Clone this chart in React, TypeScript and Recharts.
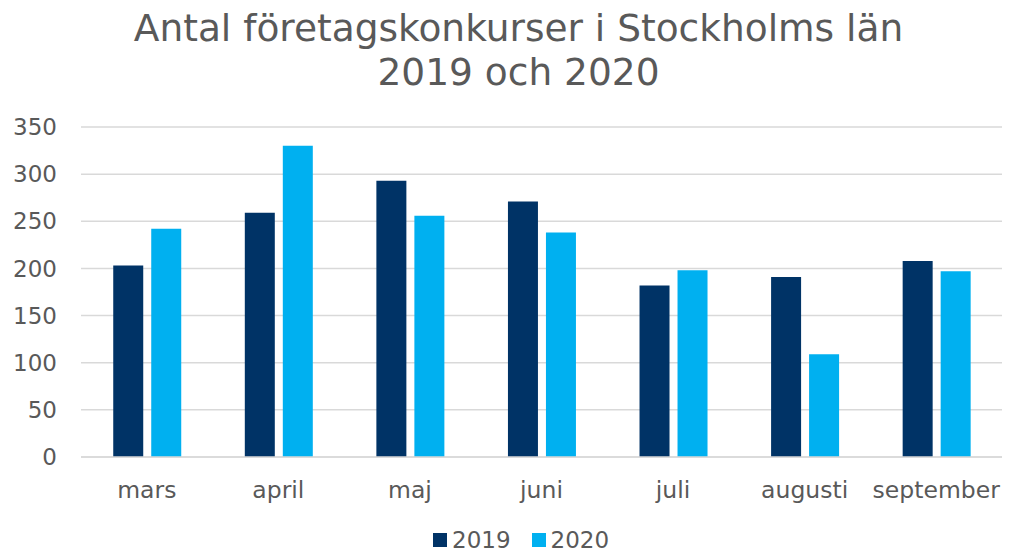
import { BarChart, Bar, XAxis, YAxis, CartesianGrid, Legend } from "recharts";

const months = ["mars", "april", "maj", "juni", "juli", "augusti", "september"];
const values2019 = [203, 259, 293, 271, 182, 191, 208];
const values2020 = [242, 330, 256, 238, 198, 109, 197];
const yTicks = [0, 50, 100, 150, 200, 250, 300, 350];

const data = months.map((m, i) => ({ month: m, y2019: values2019[i], y2020: values2020[i] }));

const FONT = "'DejaVu Sans', Verdana, sans-serif";
const GREY = "#595959";

const renderLegend = (props: any) => (
  <div style={{ display: "flex", gap: 21, fontFamily: FONT, fontSize: 23, lineHeight: "26px", color: GREY }}>
    {props.payload.map((p: any) => (
      <div key={p.value} style={{ display: "flex", alignItems: "center", gap: 5 }}>
        <span style={{ width: 14, height: 14, background: p.color, display: "inline-block" }} />
        <span>{p.value}</span>
      </div>
    ))}
  </div>
);

const App = () => {
  return (
    <div style={{ position: "absolute", left: 0, top: 0, width: 1011, height: 553, background: "#fff" }}>
      <div
        style={{
          position: "absolute",
          top: 6,
          left: 0,
          width: 1037,
          textAlign: "center",
          fontFamily: FONT,
          fontSize: 37.5,
          lineHeight: "44px",
          color: GREY,
        }}
      >
        Antal företagskonkurser i Stockholms län
        <br />
        2019 och 2020
      </div>
      <BarChart
        width={1011}
        height={553}
        data={data}
        margin={{ top: 127, right: 9, left: 0, bottom: 10 }}
        barCategoryGap="24.5%"
        barGap={8}
      >
        <CartesianGrid vertical={false} stroke="#d9d9d9" strokeWidth={1.5} />
        <XAxis
          dataKey="month"
          axisLine={{ stroke: "#d9d9d9", strokeWidth: 1.5 }}
          tickLine={false}
          tickSize={0}
          tickMargin={24}
          height={60}
          tick={{ fontFamily: FONT, fontSize: 23.5, fill: GREY }}
          interval={0}
        />
        <YAxis
          width={81}
          domain={[0, 350]}
          ticks={yTicks}
          axisLine={false}
          tickLine={false}
          tickSize={0}
          tickMargin={24}
          tick={{ fontFamily: FONT, fontSize: 23, fill: GREY }}
        />
        <Legend
          verticalAlign="bottom"
          content={renderLegend}
          wrapperStyle={{ left: 433, bottom: 0, width: "auto" }}
        />
        <Bar dataKey="y2019" name="2019" fill="#003366" isAnimationActive={false} />
        <Bar dataKey="y2020" name="2020" fill="#00B0F0" isAnimationActive={false} />
      </BarChart>
    </div>
  );
};

export default App;
